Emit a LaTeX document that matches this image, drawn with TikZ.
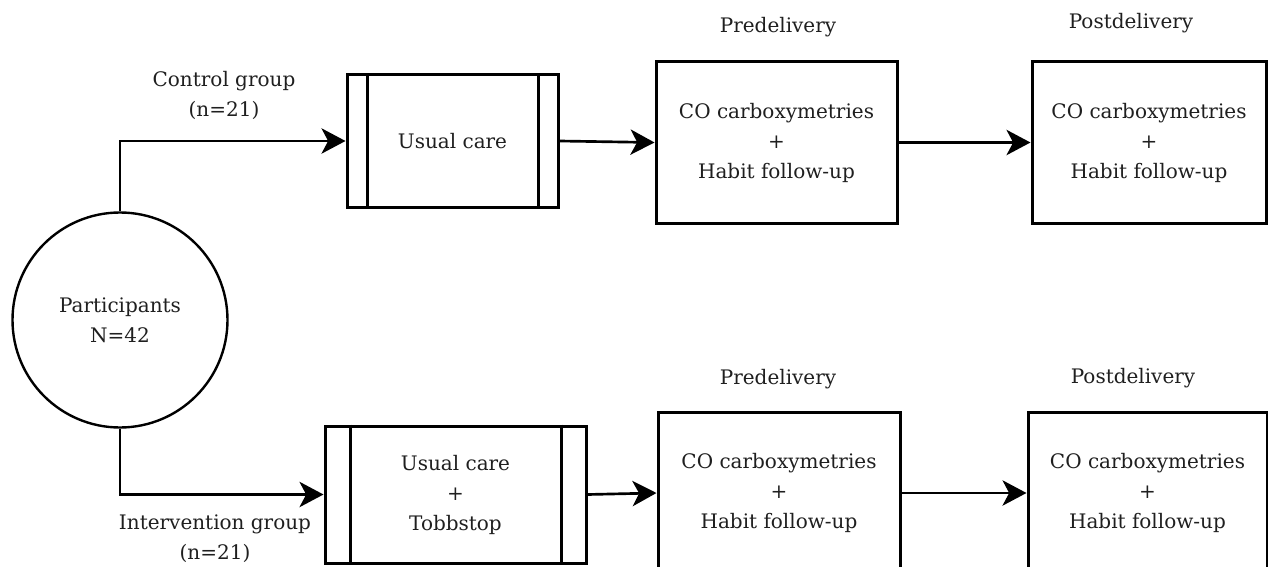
\documentclass[tikz,border=0pt]{standalone}
\usepackage{fontspec}
\setmainfont{DejaVu Serif}
\usetikzlibrary{arrows.meta}
\def\px{0.75pt}
\begin{document}
\begin{tikzpicture}[x=0.75pt,y=-0.75pt,
  every node/.style={font=\fontsize{15}{22.5}\selectfont, text=black!88, align=center, inner sep=0pt},
  stagebox/.style={draw=black, line width=2.25pt, rectangle},
  partcircle/.style={draw=black, line width=1.8pt, circle, minimum size=215*\px},
  arr/.style={draw=black, line width=2pt, -{Stealth[length=18pt,width=19pt,inset=5pt]}},
  sideline/.style={draw=black, line width=2.25pt}
]
\useasboundingbox (0,0) rectangle (1268,567);
\clip (0,0) rectangle (1268,567);

% participants
\node[partcircle] (circ) at (120,320) {Participants\\N=42};

% control branch
\node[stagebox, minimum width=211*\px, minimum height=132*\px] (uc1) at (452.5,141) {Usual care};
\draw[sideline] ([xshift=22*\px]uc1.north west) -- ([xshift=22*\px]uc1.south west);
\draw[sideline] ([xshift=-21*\px]uc1.north east) -- ([xshift=-21*\px]uc1.south east);
\node[stagebox, minimum width=241*\px, minimum height=161*\px] (pre1) at (776.5,142.5) {CO carboxymetries\\+\\Habit follow-up};
\node[stagebox, minimum width=234*\px, minimum height=161*\px] (post1) at (1149,142.5) {CO carboxymetries\\+\\Habit follow-up};

% intervention branch
\node[stagebox, minimum width=261*\px, minimum height=137*\px] (uc2) at (455.5,494.5) {Usual care\\+\\Tobbstop};
\draw[sideline] ([xshift=27*\px]uc2.north west) -- ([xshift=27*\px]uc2.south west);
\draw[sideline] ([xshift=-26*\px]uc2.north east) -- ([xshift=-26*\px]uc2.south east);
\node[stagebox, minimum width=242*\px, minimum height=161*\px] (pre2) at (779,493) {CO carboxymetries\\+\\Habit follow-up};
\node[stagebox, minimum width=239*\px, minimum height=161*\px] (post2) at (1147.5,493) {CO carboxymetries\\+\\Habit follow-up};

% labels
\node (lctrl) at (224,95) {Control group\\(n=21)};
\node (lint) at (215,538.5) {Intervention group\\(n=21)};
\node (lpre1) at (778,27) {Predelivery};
\node (lpost1) at (1131,23) {Postdelivery};
\node (lpre2) at (778,379) {Predelivery};
\node (lpost2) at (1133,378) {Postdelivery};

% connectors
\draw[arr] (circ.north) |- (uc1.west);
\draw[arr] (circ.south) |- (uc2.west);
\draw[arr] (uc1.east) -- (pre1.west);
\draw[arr] (pre1.east) -- (post1.west);
\draw[arr] (uc2.east) -- (pre2.west);
\draw[arr] (pre2.east) -- (post2.west);
\end{tikzpicture}
\end{document}
